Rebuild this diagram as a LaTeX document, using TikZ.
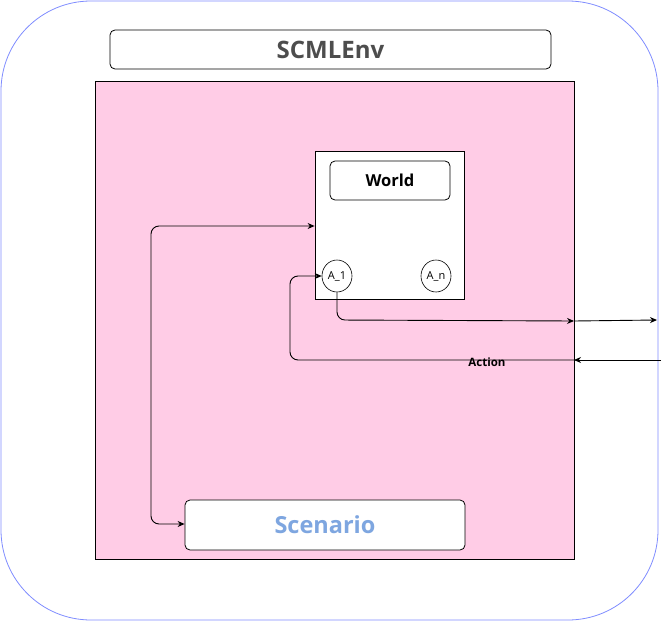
\documentclass[tikz,border=0pt]{standalone}
\usepackage{fontspec}
\setmainfont{Open Sans}
\usetikzlibrary{arrows.meta,positioning,shapes.geometric}
\definecolor{envblue}{HTML}{7F8CFF}
\definecolor{envpink}{HTML}{FFCCE6}
\definecolor{titlegray}{HTML}{4D4D4D}
\definecolor{scenblue}{HTML}{7EA6E0}
\tikzset{
  titlebox/.style={draw,rounded corners=5pt,fill=white,line width=.8pt,inner sep=0pt},
  agent/.style={draw,ellipse,minimum width=30pt,minimum height=32pt,inner sep=0pt,line width=.6pt,font=\fontsize{11}{13}\selectfont},
  flow/.style={line width=.9pt,rounded corners=8pt,-{Stealth[length=7pt,width=6pt]}}
}
\begin{document}
\begin{tikzpicture}[x=1pt,y=-1pt]
\path[use as bounding box] (0,0) rectangle (670,621);
\draw[envblue,line width=.8pt,rounded corners=90pt] (1,1) rectangle (658,620);
\node[titlebox,minimum width=441pt,minimum height=39pt,text=titlegray,font=\bfseries\fontsize{24}{28}\selectfont] (env) at (330.5,49.5) {SCMLEnv};
\draw[fill=envpink,line width=.8pt] (95,81) rectangle (574,559);
\coordinate (pinkout) at (574,321);
\coordinate (pinkin) at (574,360);
\coordinate (outside) at (657,320);
\coordinate (source) at (661,360);
\node[draw,fill=white,line width=.8pt,minimum width=149pt,minimum height=148pt,inner sep=0pt] (worldarea) at (389.5,225) {};
\node[titlebox,minimum width=120pt,minimum height=39pt,font=\bfseries\fontsize{16.5}{20}\selectfont] (world) at (390,180.5) {World};
\node[agent] (a1) at (337,276) {A\_1};
\node[agent] (an) at (436,276) {A\_n};
\node[titlebox,minimum width=280pt,minimum height=50pt,text=scenblue,font=\bfseries\fontsize{23.5}{28}\selectfont] (scenario) at (325,525) {Scenario};
\draw[flow,{Stealth[length=7pt,width=6pt]}-{Stealth[length=7pt,width=6pt]}] (worldarea.west |- 0,226) -- (151,226) -- (151,524) -- (scenario.west |- 0,524);
\draw[flow] (a1.south) -- (337,320) -- (pinkout);
\draw[flow] (pinkout) -- (outside);
\draw[flow] (source) -- (pinkin);
\draw[flow] (pinkin) -- (290,360) -- (290,276) -- (a1.west);
\node[font=\bfseries\fontsize{11.5}{14}\selectfont] (action) at (487,362) {Action};
\end{tikzpicture}
\end{document}
